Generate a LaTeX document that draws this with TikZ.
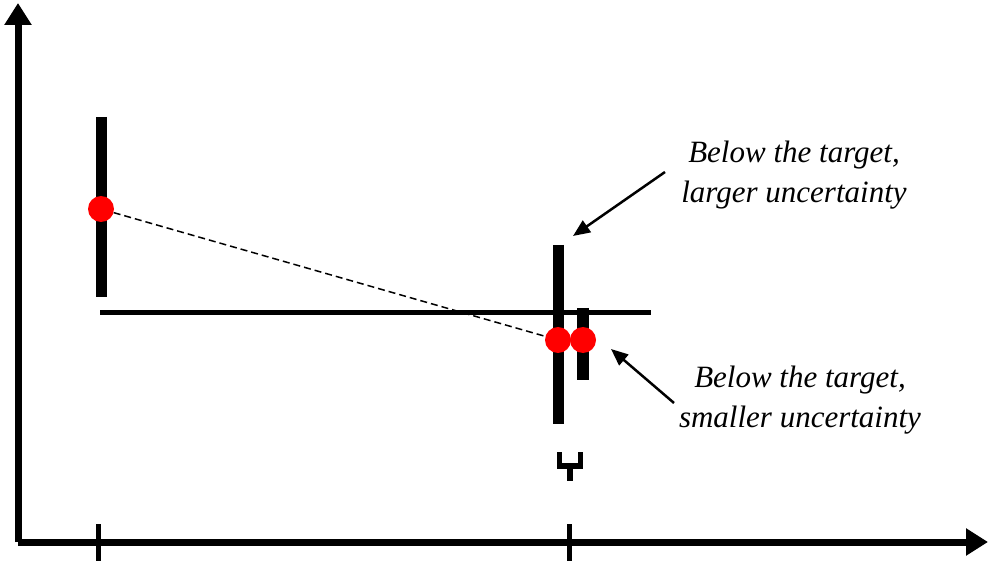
\documentclass[tikz,border=0pt]{standalone}
\usepackage{fontspec}
\setmainfont{Liberation Serif}
\usetikzlibrary{arrows.meta}

\begin{document}
\begin{tikzpicture}[x=1pt,y=-1pt,
  axis/.style={line width=7pt,-{Triangle[length=22pt,width=26pt]}},
  tick/.style={line width=5pt},
  errbar/.style={line width=11pt},
  estim/.style={circle,fill=red,inner sep=0pt,minimum size=26pt},
  callout/.style={line width=2.5pt,-{Triangle[length=17pt,width=14pt]}},
  lbl/.style={font=\fontsize{31}{40}\selectfont\itshape,align=center}]
  \useasboundingbox (0,0) rectangle (988,561);

  % axes
  \coordinate (origin) at (18,542);
  \coordinate (ytop) at (18,3);
  \coordinate (xend) at (988,542);
  \draw[axis] (origin) -- (ytop);
  \draw[axis] (origin) -- (xend);
  \draw[tick] (98,524) -- (98,561);
  \draw[tick] (569,524) -- (569,561);

  % target line
  \draw[line width=5pt] (100,313) -- (651,313);

  % error bars
  \draw[errbar] (101,117) -- (101,297);
  \draw[errbar] (558,245) -- (558,424);
  \draw[line width=12pt] (583,308) -- (583,380);

  % estimates
  \node[estim] (early) at (101,209) {};
  \node[estim] (late) at (558,340) {};
  \node[estim] (latesmall) at (583,340) {};
  \draw[dashed,line width=1.5pt,dash pattern=on 7pt off 4pt] (early) -- (late);

  % symbol under the bar
  \draw[line width=5.5pt] (559.5,452) -- (559.5,466) -- (580.5,466) -- (580.5,452);
  \draw[line width=5.5pt] (570,466) -- (570,481);

  % labels
  \node[lbl] (larger) at (794,175) {Below the target,\\larger uncertainty};
  \node[lbl] (smaller) at (800,400) {Below the target,\\smaller uncertainty};
  \coordinate (largertail) at (665,172);
  \coordinate (largertip) at (573,236);
  \coordinate (smallertail) at (674,403);
  \coordinate (smallertip) at (611,349);
  \draw[callout] (largertail) -- (largertip);
  \draw[callout] (smallertail) -- (smallertip);
\end{tikzpicture}
\end{document}
